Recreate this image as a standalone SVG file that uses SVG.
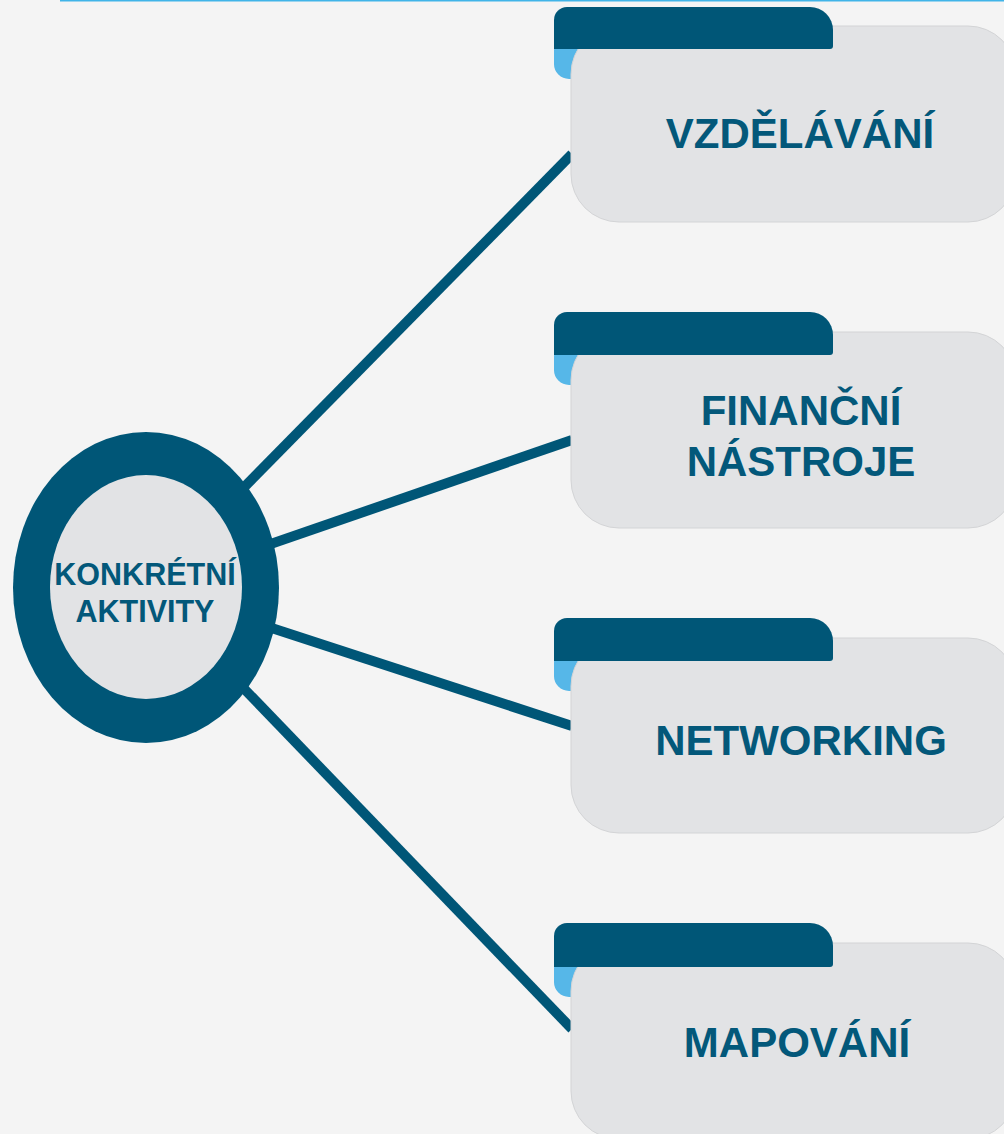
<svg xmlns="http://www.w3.org/2000/svg" width="1004" height="1134" viewBox="0 0 1004 1134">
<defs>
<style>
.bg{fill:#f4f4f4}
.conn{stroke:#005677;stroke-width:10;stroke-linecap:butt;fill:none}
.card{fill:#e2e3e5;stroke:#d3d4d6;stroke-width:1}
.tab{fill:#005677}
.strip{fill:#56b7e8}
.lbl{font-family:"Liberation Sans",Arial,sans-serif;font-weight:bold;fill:#03587a;text-anchor:middle}
.big{font-size:42px}
.small{font-size:30.5px}
</style>
</defs>
<rect class="bg" x="0" y="0" width="1004" height="1134"/>
<line x1="60" y1="0.75" x2="1004" y2="0.75" stroke="#40b4e8" stroke-width="1.5"/>
<g id="connectors">
<line class="conn" x1="146" y1="587" x2="572" y2="154"/>
<line class="conn" x1="146" y1="587" x2="572" y2="440"/>
<line class="conn" x1="146" y1="587" x2="572" y2="726"/>
<line class="conn" x1="146" y1="587" x2="572" y2="1029"/>
</g>
<g id="center">
<ellipse cx="146" cy="587.5" rx="133" ry="155.5" fill="#005677"/>
<ellipse cx="146" cy="587" rx="96" ry="112" fill="#e2e3e5"/>
<text class="lbl small" x="145" y="585">KONKRÉTNÍ</text>
<text class="lbl small" x="145" y="622">AKTIVITY</text>
</g>
<g id="box1">
<rect class="strip" x="554" y="35" width="40" height="44" rx="15"/>
<rect class="card" x="571" y="26" width="445" height="196" rx="48"/>
<path class="tab" d="M554,49 V20 A13,13 0 0 1 567,7 H810 A23,23 0 0 1 833,30 V46 A3,3 0 0 1 830,49 Z"/>
<text class="lbl big" x="800" y="148">VZDĚLÁVÁNÍ</text>
</g>
<g id="box2">
<rect class="strip" x="554" y="341" width="40" height="44" rx="15"/>
<rect class="card" x="571" y="332" width="445" height="196" rx="48"/>
<path class="tab" d="M554,355 V325 A13,13 0 0 1 567,312 H810 A23,23 0 0 1 833,335 V352 A3,3 0 0 1 830,355 Z"/>
<text class="lbl big" x="801" y="425">FINANČNÍ</text>
<text class="lbl big" x="801" y="476">NÁSTROJE</text>
</g>
<g id="box3">
<rect class="strip" x="554" y="647" width="40" height="44" rx="15"/>
<rect class="card" x="571" y="638" width="445" height="195" rx="48"/>
<path class="tab" d="M554,661 V631 A13,13 0 0 1 567,618 H810 A23,23 0 0 1 833,641 V658 A3,3 0 0 1 830,661 Z"/>
<text class="lbl big" x="801" y="755">NETWORKING</text>
</g>
<g id="box4">
<rect class="strip" x="554" y="953" width="40" height="44" rx="15"/>
<rect class="card" x="571" y="943" width="445" height="196" rx="48"/>
<path class="tab" d="M554,967 V936 A13,13 0 0 1 567,923 H810 A23,23 0 0 1 833,946 V964 A3,3 0 0 1 830,967 Z"/>
<text class="lbl big" x="797" y="1057">MAPOVÁNÍ</text>
</g>
</svg>
